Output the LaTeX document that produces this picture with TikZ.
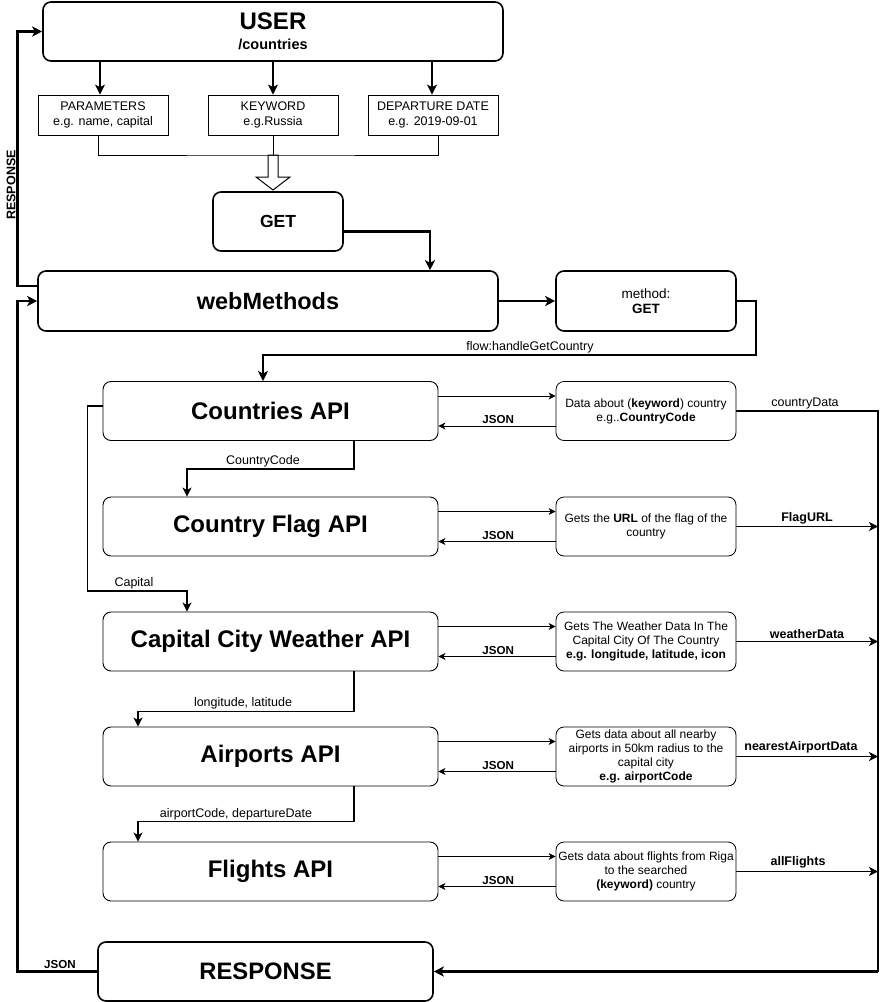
\documentclass[tikz,border=0pt]{standalone}
\usepackage{fontspec}
\setmainfont{Liberation Sans}
\usetikzlibrary{arrows.meta,calc}
\begin{document}
\begin{tikzpicture}[x=1pt,y=-1pt,
  bigbox/.style={draw,rounded corners=8pt,line width=1.6pt,inner sep=0pt,align=center},
  apibox/.style={draw,rounded corners=8pt,line width=0.9pt,inner sep=0pt,minimum width=335pt,minimum height=59pt,font=\fontsize{24}{26}\selectfont\bfseries},
  detbox/.style={draw,rounded corners=8pt,line width=0.8pt,inner sep=0pt,minimum width=180pt,minimum height=59pt,align=center,font=\fontsize{12}{14}\selectfont},
  parbox/.style={draw,line width=0.8pt,inner sep=0pt,minimum width=130pt,minimum height=40pt,align=center,font=\fontsize{12.5}{15}\selectfont},
  bigarr/.style={line width=2.6pt,-{Stealth[length=10pt,width=10pt,inset=2.5pt]}},
  midarr/.style={line width=1.8pt,-{Stealth[length=9pt,width=9pt,inset=2.5pt]}},
  thinarr/.style={line width=0.9pt,-{Stealth[length=7pt,width=7pt,inset=2pt]}},
  lbl/.style={inner sep=0pt,font=\fontsize{12.5}{14}\selectfont},
  blbl/.style={inner sep=0pt,font=\fontsize{12.5}{14}\selectfont\bfseries},
  jlbl/.style={inner sep=0pt,font=\fontsize{11.6}{13}\selectfont\bfseries},
]
\useasboundingbox[fill=white] (0,0) rectangle (888,1002);

% top part
\node[bigbox,minimum width=460pt,minimum height=59pt] (user) at (273,31.5)
  {\fontsize{24}{24}\selectfont\bfseries USER\\[8pt]\fontsize{14.5}{15}\selectfont\bfseries /countries};
\node[parbox] (par) at (103,115) {PARAMETERS\\e.g. name, capital};
\node[parbox] (key) at (273,115) {KEYWORD\\e.g.Russia};
\node[parbox] (dep) at (433,115) {DEPARTURE DATE\\e.g. 2019-09-01};
\node[bigbox,minimum width=130pt,minimum height=59pt,font=\fontsize{17.5}{18}\selectfont\bfseries] (get) at (278,221.5) {GET};
\node[bigbox,minimum width=460pt,minimum height=60pt,font=\fontsize{23.5}{26}\selectfont\bfseries] (web) at (268,301) {webMethods};
\node[bigbox,minimum width=180pt,minimum height=60pt] (meth) at (646,301)
  {\fontsize{13.5}{17}\selectfont method:\\[3pt]\fontsize{13.5}{17}\selectfont\bfseries GET};

% APIs
\node[apibox] (cou) at (270.5,411) {Countries API};
\node[apibox] (flag) at (270.5,526.5) {Country Flag API};
\node[apibox] (wea) at (270.5,641.5) {Capital City Weather API};
\node[apibox] (air) at (270.5,756.5) {Airports API};
\node[apibox] (fli) at (270.5,871.5) {Flights API};

\node[detbox] (cdet) at (646,411) {Data about (\textbf{keyword}) country\\e.g..\textbf{CountryCode}};
\node[detbox] (fdet) at (646,526.5) {Gets the \textbf{URL} of the flag of the\\country};
\node[detbox] (wdet) at (646,641.5) {Gets The Weather Data In The\\Capital City Of The Country\\\textbf{e.g. longitude, latitude, icon}};
\node[detbox] (adet) at (646,756.5) {Gets data about all nearby\\airports in 50km radius to the\\capital city\\\textbf{e.g. airportCode}};
\node[detbox] (ldet) at (646,871.5) {Gets data about flights from Riga\\to the searched\\\textbf{(keyword)} country};

\node[bigbox,minimum width=335pt,minimum height=59pt,font=\fontsize{23.8}{26}\selectfont\bfseries] (resp) at (265.5,971.5) {RESPONSE};

% top connectors
\draw[bigarr] ([xshift=-3pt]par.north |- user.south) -- ([xshift=-3pt]par.north);
\draw[bigarr] (key.north |- user.south) -- (key.north);
\draw[bigarr] ([xshift=-1pt]dep.north |- user.south) -- ([xshift=-1pt]dep.north);

\coordinate (brk) at (273,155);
\draw[line width=1pt,fill=white,shift={(brk)}] (-5,0) -- (5,0) -- (5,22) -- (17,22) -- (0,35) -- (-17,22) -- (-5,22) -- cycle;
\draw[line width=1pt] ([xshift=-5pt]par.south) |- (brk) -| ([xshift=5pt]dep.south);
\draw[line width=1pt] (key.south) -- (key.south |- brk);

\draw[bigarr] ([yshift=-10pt]get.east) -| ([xshift=162pt]web.north);
\draw[bigarr] (web.east) -- (meth.west);

\coordinate (fl) at (756,355);
\draw[bigarr] (meth.east) -| (fl) -| ([xshift=-7.5pt]cou.north);
\node[lbl,anchor=south] (flowlbl) at (530,353) {flow:handleGetCountry};

% response loop to user
\draw[bigarr] ([yshift=15pt]web.west) -- ++(-20,0) |- (user.west);
\node[blbl,rotate=90] (resplbl) at (11,185) {RESPONSE};

% request / JSON arrows
\foreach \a/\d/\n in {cou/cdet/1,flag/fdet/2,wea/wdet/3,air/adet/4,fli/ldet/5}{
  \draw[thinarr] ([yshift=15pt]\a.east) -- ([yshift=15pt]\d.west);
  \draw[thinarr] ([yshift=-15pt]\d.west) -- ([yshift=-15pt]\a.east);
  \node[jlbl,anchor=south] (json\n) at ($([yshift=-15pt]\a.east)!0.51!([yshift=-15pt]\d.west)+(0,-2)$) {JSON};
}

% right collector
\coordinate (rgt) at (878,971.5);
\draw[line width=2.6pt] (cdet.east) -| (rgt);
\draw[bigarr] (rgt) -- (resp.east);
\node[lbl,anchor=south] (l1) at (805,409) {countryData};
\draw[midarr] (fdet.east) -- (fdet.east -| rgt);
\node[blbl,anchor=south] (l2) at (807,524) {FlagURL};
\draw[midarr] (wdet.east) -- (wdet.east -| rgt);
\node[blbl,anchor=south] (l3) at (807,639) {weatherData};
\draw[midarr] (adet.east) -- (adet.east -| rgt);
\node[blbl,anchor=south] (l4) at (801,753) {nearestAirportData};
\draw[midarr] (ldet.east) -- (ldet.east -| rgt);
\node[blbl,anchor=south] (l5) at (798,868) {allFlights};

% left chain
\draw[midarr] ([xshift=83.5pt]cou.south) -- ++(0,28) -| ([xshift=-83.5pt]flag.north);
\node[lbl,anchor=south] (cc) at (263,467) {CountryCode};
\draw[midarr] ([yshift=5pt]cou.west) -- ++(-15,0) -- ++(0,185) -| ([xshift=-83.5pt]wea.north);
\node[lbl,anchor=south] (capl) at (134,589) {Capital};
\draw[midarr] ([xshift=83.5pt]wea.south) -- ++(0,40) -| ([xshift=-132.5pt]air.north);
\node[lbl,anchor=south] (ll) at (243,709) {longitude, latitude};
\draw[midarr] ([xshift=83.5pt]air.south) -- ++(0,35) -| ([xshift=-132.5pt]fli.north);
\node[lbl,anchor=south] (ad) at (236,820) {airportCode, departureDate};

% JSON back to webMethods
\draw[bigarr] (resp.west) -| ([xshift=-20pt]web.west) -- (web.west);
\node[jlbl,anchor=south] (jsonl) at (60,969) {JSON};
\end{tikzpicture}
\end{document}
